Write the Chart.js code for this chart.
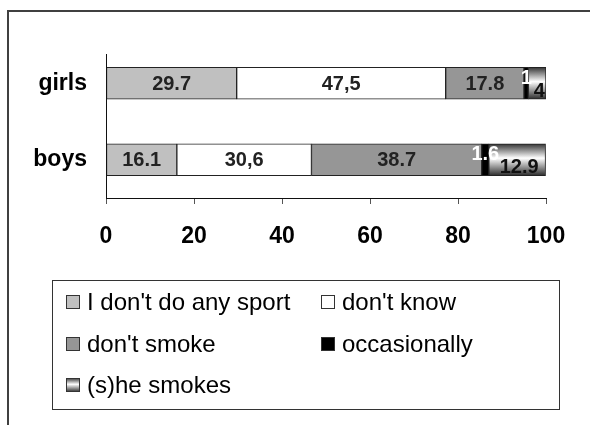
<!DOCTYPE html>
<html>
<head>
<meta charset="utf-8">
<script src="https://cdn.jsdelivr.net/npm/chart.js@4.4.1/dist/chart.umd.min.js"></script>
<style>
  html, body { margin: 0; padding: 0; background: #fff; }
  #wrap { width: 590px; height: 425px; }
</style>
</head>
<body>
<div id="wrap"><canvas id="myChart" width="590" height="425"></canvas></div>
<script>
// categories and series (percent)
const groups = ['girls', 'boys'];
const seriesNames = ["I don't do any sport", "don't know", "don't smoke", "occasionally", "(s)he smokes"];
const noSport = [29.7, 16.1];
const dontKnow = [47.5, 30.6];
const dontSmoke = [17.8, 38.7];
const occasionally = [1, 1.6];
const smokes = [4, 12.9];
const xTicks = [0, 20, 40, 60, 80, 100];

const FONT = '"Liberation Sans", Arial, Helvetica, sans-serif';
const BAR = 32;

function smokeGradient(ctx, top, bottom) {
    const g = ctx.createLinearGradient(0, top, 0, bottom);
    g.addColorStop(0, '#333333');
    g.addColorStop(0.45, '#ffffff');
    g.addColorStop(1, '#2a2a2a');
    return g;
}

const smokeFill = (c) => {
    const chart = c.chart;
    const y = chart.scales.y;
    if (!y || !chart.chartArea || c.dataIndex === undefined) return '#888';
    const cy = y.getPixelForValue(c.dataIndex);
    return smokeGradient(chart.ctx, cy - BAR / 2, cy + BAR / 2);
};

// frame, y axis line and the boxed legend
const decorations = {
    id: 'decorations',
    beforeDraw(chart) {
        const ctx = chart.ctx;
        ctx.save();
        ctx.fillStyle = '#fff';
        ctx.fillRect(0, 0, chart.width, chart.height);
        ctx.strokeStyle = '#404040';
        ctx.lineWidth = 2;
        ctx.beginPath();
        ctx.moveTo(8, chart.height);
        ctx.lineTo(8, 11);
        ctx.lineTo(chart.width, 11);
        ctx.stroke();
        ctx.restore();
    },
    afterDraw(chart) {
        const ctx = chart.ctx;
        const area = chart.chartArea;
        ctx.save();
        ctx.strokeStyle = '#111';
        ctx.lineWidth = 1;
        ctx.beginPath();
        ctx.moveTo(area.left + 0.5, 54);
        ctx.lineTo(area.left + 0.5, area.bottom);
        ctx.stroke();

        // legend box
        ctx.strokeStyle = '#333';
        ctx.strokeRect(52.5, 280.5, 507, 129);
        const cols = [66, 321];
        const rows = [310, 352, 393];
        ctx.font = '24px ' + FONT;
        ctx.textBaseline = 'alphabetic';
        chart.data.datasets.forEach((ds, i) => {
            const x = cols[i % 2];
            const base = rows[Math.floor(i / 2)];
            const top = base - 15;
            ctx.fillStyle = ds.swatch === 'gradient' ? smokeGradient(ctx, top, top + 14) : ds.backgroundColor;
            ctx.fillRect(x, top, 14, 14);
            ctx.strokeStyle = '#333';
            ctx.strokeRect(x + 0.5, top + 0.5, 13, 13);
            ctx.fillStyle = '#000';
            ctx.textAlign = 'left';
            ctx.fillText(ds.label, x + 21, base);
        });
        ctx.restore();
    }
};

// value labels inside the bars
const barValues = {
    id: 'barValues',
    afterDatasetsDraw(chart) {
        const ctx = chart.ctx;
        ctx.save();
        ctx.font = 'bold 20px ' + FONT;
        ctx.textAlign = 'center';
        ctx.textBaseline = 'middle';
        chart.data.datasets.forEach((ds, i) => {
            const meta = chart.getDatasetMeta(i);
            const shift = ds.labelShift || [0, 0];
            meta.data.forEach((bar, j) => {
                const p = bar.getProps(['x', 'y', 'base'], true);
                const txt = String(ds.data[j]).replace('.', ds.decimal || '.');
                ctx.fillStyle = ds.labelColor || '#222';
                ctx.fillText(txt, (p.x + p.base) / 2 + shift[0], p.y + shift[1] + 1);
            });
        });
        ctx.restore();
    }
};

const common = { borderColor: '#222', borderWidth: 1, borderSkipped: false, barThickness: BAR };

new Chart(document.getElementById('myChart'), {
    type: 'bar',
    data: {
        labels: groups,
        datasets: [
            { ...common, label: seriesNames[0], data: noSport, backgroundColor: '#c0c0c0' },
            { ...common, label: seriesNames[1], data: dontKnow, backgroundColor: '#ffffff', decimal: ',' },
            { ...common, label: seriesNames[2], data: dontSmoke, backgroundColor: '#969696' },
            { ...common, label: seriesNames[3], data: occasionally, backgroundColor: '#000000', labelColor: '#fff', labelShift: [0, -6] },
            { ...common, label: seriesNames[4], data: smokes, backgroundColor: smokeFill, swatch: 'gradient', labelColor: '#111', labelShift: [2, 7] }
        ]
    },
    options: {
        indexAxis: 'y',
        responsive: false,
        animation: false,
        layout: { padding: { left: 0, top: 45, right: 44, bottom: 177 } },
        plugins: {
            legend: { display: false },
            tooltip: { enabled: false }
        },
        scales: {
            x: {
                stacked: true,
                min: 0,
                max: 100,
                afterBuildTicks: (scale) => { scale.ticks = xTicks.map(v => ({ value: v })); },
                afterFit: (scale) => { scale.height = 50; },
                grid: { drawOnChartArea: false, drawTicks: true, tickLength: 6, color: '#555' },
                border: { display: true, color: '#111' },
                ticks: { color: '#000', padding: 19, maxRotation: 0, font: { family: FONT, size: 23, weight: 'bold' } }
            },
            y: {
                stacked: true,
                afterFit: (scale) => { scale.width = 106; },
                grid: { display: false, drawTicks: false },
                border: { display: false },
                ticks: { color: '#000', padding: 19, font: { family: FONT, size: 23, weight: 'bold' } }
            }
        }
    },
    plugins: [decorations, barValues]
});
</script>
</body>
</html>
